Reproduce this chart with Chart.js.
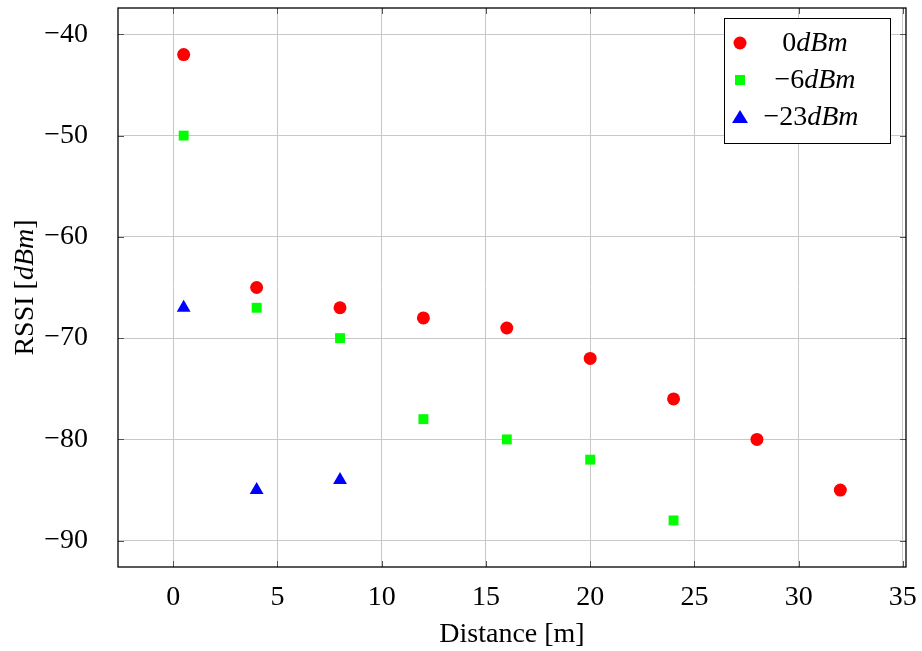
<!DOCTYPE html>
<html>
<head>
<meta charset="utf-8">
<script src="https://cdn.jsdelivr.net/npm/chart.js@4"></script>
<style>
  html, body { margin: 0; padding: 0; background: #fff; }
  #wrap { width: 922px; height: 651px; }
</style>
</head>
<body>
<div id="wrap"><canvas id="rssiChart" width="922" height="651"></canvas></div>
<script>
// distances (m) and RSSI readings per transmit power
const dist0 = [0.5, 4, 8, 12, 16, 20, 24, 28, 32];
const rssi0 = [-42, -65, -67, -68, -69, -72, -76, -80, -85];
const dist6 = [0.5, 4, 8, 12, 16, 20, 24];
const rssi6 = [-50, -67, -70, -78, -80, -82, -88];
const dist23 = [0.5, 4, 8];
const rssi23 = [-67, -85, -84];

const seriesNames = ["0", "\u22126", "\u221223"];
const xTicks = [0, 5, 10, 15, 20, 25, 30, 35];
const yTicks = [-90, -80, -70, -60, -50, -40];

const serif = "'Liberation Serif', 'Times New Roman', serif";

function toPoints(xs, ys) {
  return xs.map((x, i) => ({ x: x, y: ys[i] }));
}

// inward ticks, frame, legend and y title (mixed upright/italic)
const decor = {
  id: "decor",
  afterDraw(chart) {
    const { ctx, chartArea: a, scales } = chart;
    ctx.save();
    ctx.strokeStyle = "#555";
    ctx.lineWidth = 1;
    xTicks.forEach((v) => {
      const px = Math.round(scales.x.getPixelForValue(v)) + 0.5;
      ctx.beginPath();
      ctx.moveTo(px, a.bottom); ctx.lineTo(px, a.bottom - 6);
      ctx.moveTo(px, a.top); ctx.lineTo(px, a.top + 6);
      ctx.stroke();
    });
    yTicks.forEach((v) => {
      const py = Math.round(scales.y.getPixelForValue(v)) + 0.5;
      ctx.beginPath();
      ctx.moveTo(a.left, py); ctx.lineTo(a.left + 6, py);
      ctx.moveTo(a.right, py); ctx.lineTo(a.right - 6, py);
      ctx.stroke();
    });
    ctx.strokeStyle = "#000";
    ctx.lineWidth = 1.3;
    ctx.strokeRect(a.left, a.top, a.right - a.left, a.bottom - a.top);

    // legend
    const lx = 724, ly = 18, lw = 166, lh = 125;
    ctx.fillStyle = "#fff";
    ctx.fillRect(lx, ly, lw, lh);
    ctx.lineWidth = 1;
    ctx.strokeRect(lx + 0.5, ly + 0.5, lw, lh);
    const rows = [43, 80, 117];
    chart.data.datasets.forEach((ds, i) => {
      const cy = rows[i];
      ctx.fillStyle = ds.backgroundColor;
      ctx.beginPath();
      if (ds.pointStyle === "circle") {
        ctx.arc(740, cy, 6.5, 0, Math.PI * 2);
      } else if (ds.pointStyle === "rect") {
        ctx.rect(735, cy - 5, 10, 10);
      } else {
        ctx.moveTo(740, cy - 7); ctx.lineTo(748, cy + 6); ctx.lineTo(732, cy + 6);
        ctx.closePath();
      }
      ctx.fill();
      const num = seriesNames[i];
      ctx.font = "28px " + serif;
      const w1 = ctx.measureText(num).width;
      ctx.font = "italic 28px " + serif;
      const w2 = ctx.measureText("dBm").width;
      const x0 = 815 - (w1 + w2) / 2 + (i === 2 ? -4 : 0);
      ctx.fillStyle = "#000";
      ctx.textBaseline = "middle";
      ctx.textAlign = "left";
      ctx.font = "28px " + serif;
      ctx.fillText(num, x0, cy + 1);
      ctx.font = "italic 28px " + serif;
      ctx.fillText("dBm", x0 + w1, cy + 1);
    });

    // y axis title
    ctx.translate(26, (a.top + a.bottom) / 2);
    ctx.rotate(-Math.PI / 2);
    const parts = [["RSSI [", ""], ["dBm", "italic "], ["]", ""]];
    let total = 0;
    parts.forEach((p) => { ctx.font = p[1] + "28px " + serif; total += ctx.measureText(p[0]).width; });
    let cx = -total / 2;
    ctx.textBaseline = "middle";
    parts.forEach((p) => {
      ctx.font = p[1] + "28px " + serif;
      ctx.fillText(p[0], cx, 0);
      cx += ctx.measureText(p[0]).width;
    });
    ctx.restore();
  }
};

const ctx = document.getElementById("rssiChart").getContext("2d");
new Chart(ctx, {
  type: "scatter",
  data: {
    datasets: [
      {
        label: "0dBm",
        data: toPoints(dist0, rssi0),
        backgroundColor: "#ff0000",
        borderColor: "#ff0000",
        pointStyle: "circle",
        pointRadius: 6.5,
        pointBorderWidth: 0,
      },
      {
        label: "-6dBm",
        data: toPoints(dist6, rssi6),
        backgroundColor: "#00ff00",
        borderColor: "#00ff00",
        pointStyle: "rect",
        pointRadius: 7,
        pointBorderWidth: 0,
      },
      {
        label: "-23dBm",
        data: toPoints(dist23, rssi23),
        backgroundColor: "#0000ff",
        borderColor: "#0000ff",
        pointStyle: "triangle",
        pointRadius: 8,
        pointBorderWidth: 0,
      },
    ],
  },
  options: {
    responsive: false,
    animation: false,
    layout: { padding: { top: 6, right: 16, left: 0, bottom: 0 } },
    plugins: {
      legend: { display: false },
      tooltip: { enabled: false },
    },
    scales: {
      x: {
        type: "linear",
        min: -2.65,
        max: 35.15,
        afterBuildTicks: (s) => { s.ticks = xTicks.map((v) => ({ value: v })); },
        afterFit: (s) => { s.height = 84; s.paddingLeft = 0; s.paddingRight = 0; },
        grid: { color: "#c8c8c8", lineWidth: 1, tickLength: 0, drawTicks: false },
        border: { display: false },
        ticks: {
          padding: 14,
          color: "#000",
          font: { family: serif, size: 28 },
          maxRotation: 0,
        },
        title: {
          display: true,
          text: "Distance [m]",
          color: "#000",
          font: { family: serif, size: 28 },
          padding: { top: 0, bottom: 0 },
        },
      },
      y: {
        type: "linear",
        min: -92.6,
        max: -37.4,
        afterBuildTicks: (s) => { s.ticks = yTicks.map((v) => ({ value: v })); },
        afterFit: (s) => { s.width = 118; s.paddingTop = 0; s.paddingBottom = 0; },
        grid: { color: "#c8c8c8", lineWidth: 1, tickLength: 0, drawTicks: false },
        border: { display: false },
        ticks: {
          padding: 30,
          color: "#000",
          font: { family: serif, size: 28 },
          callback: (v) => String(v).replace("-", "\u2212"),
        },
      },
    },
  },
  plugins: [decor],
});
</script>
</body>
</html>
